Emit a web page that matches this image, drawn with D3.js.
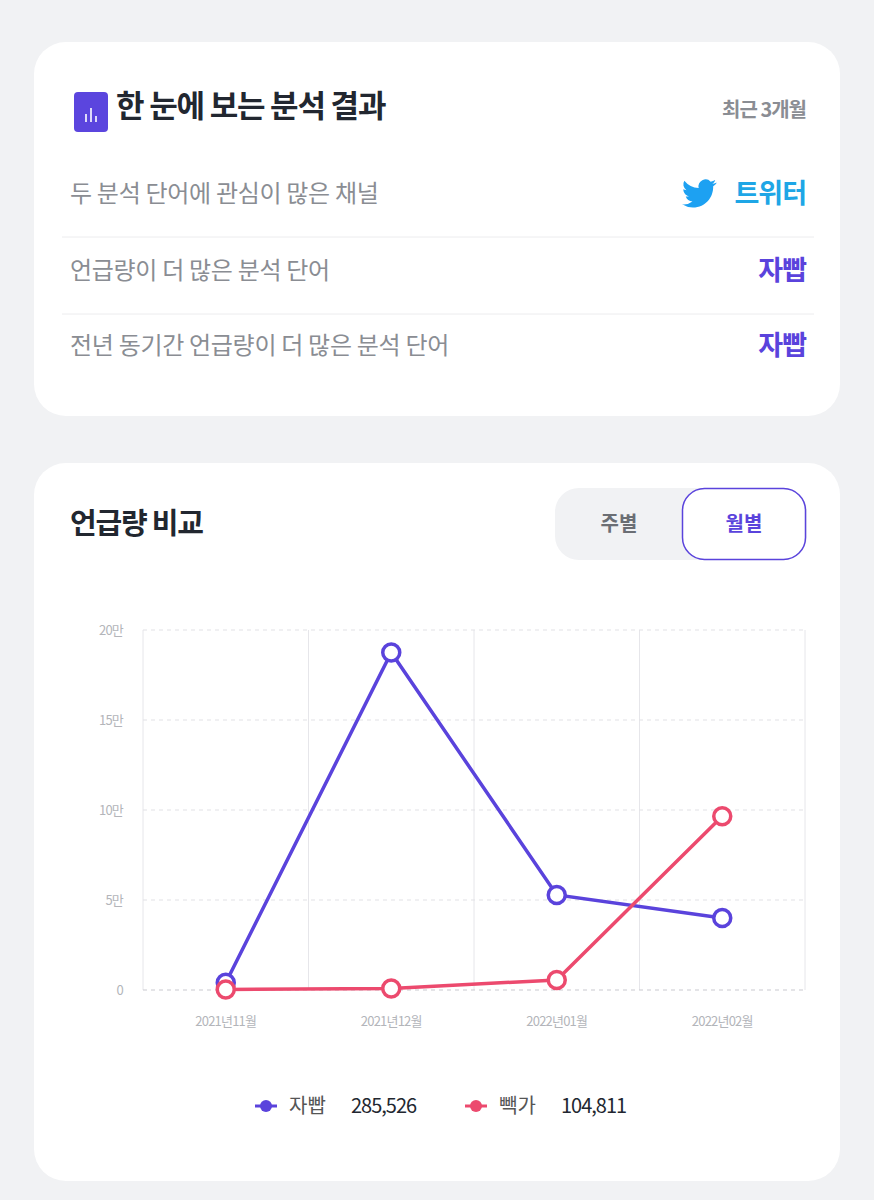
<!DOCTYPE html>
<html><head><meta charset="utf-8">
<script src="https://cdn.jsdelivr.net/npm/d3@7"></script>
<style>
body{margin:0;background:#f1f2f4;font-family:"Noto Sans CJK KR","Noto Sans",sans-serif;}
</style></head>
<body><svg id="c" width="874" height="1200"></svg>
<script>
// summary rows
var summaryRows = ["두 분석 단어에 관심이 많은 채널", "언급량이 더 많은 분석 단어", "전년 동기간 언급량이 더 많은 분석 단어"];
var summaryValues = ["트위터", "자빱", "자빱"];

// chart data
var months = ["2021년11월", "2021년12월", "2022년01월", "2022년02월"];
var seriesNames = ["자빱", "빽가"];
var jabbap = [4000, 187500, 52800, 40000];
var baekga = [300, 800, 5600, 96500];
var totals = ["285,526", "104,811"];
var yTicks = [0, 50000, 100000, 150000, 200000];
var yTickLabels = ["0", "5만", "10만", "15만", "20만"];
var colors = ["#5a43dc", "#ec4a6e"];

var svg = d3.select("#c");
svg.append("rect").attr("width", 874).attr("height", 1200).attr("fill", "#f1f2f4");

// card 1
svg.append("rect").attr("x", 34).attr("y", 42).attr("width", 806).attr("height", 374).attr("rx", 32).attr("fill", "#fff");
svg.append("rect").attr("x", 74).attr("y", 92).attr("width", 34).attr("height", 40).attr("rx", 4).attr("fill", "#5b45de");
[[86, 114, 8], [91, 108, 14], [96, 116, 6]].forEach(function(b){
  svg.append("line").attr("x1", b[0]).attr("x2", b[0]).attr("y1", b[1]).attr("y2", b[1] + b[2]).attr("stroke", "#fff").attr("stroke-width", 1.6);
});
svg.append("text").attr("x", 116).attr("y", 117).attr("font-size", 31).attr("font-weight", 700).attr("fill", "#222730").attr("letter-spacing", -1.2).text("한 눈에 보는 분석 결과");
svg.append("text").attr("x", 806).attr("y", 117).attr("text-anchor", "end").attr("font-size", 20).attr("font-weight", 700).attr("fill", "#8a8d93").attr("letter-spacing", -1).text("최근 3개월");

var rowY = [193, 270, 345];
summaryRows.forEach(function(t, i){
  svg.append("text").attr("x", 70).attr("y", rowY[i] + 9).attr("font-size", 24).attr("fill", "#8a8d93").attr("letter-spacing", -0.3).text(t);
  var isTw = i === 0;
  svg.append("text").attr("x", 806).attr("y", rowY[i] + 10).attr("text-anchor", "end").attr("font-size", 27).attr("font-weight", 700)
    .attr("fill", isTw ? "#1ea6e6" : "#5a43dc").attr("letter-spacing", -1).text(summaryValues[i]);
  if (i < 2) svg.append("line").attr("x1", 62).attr("x2", 814).attr("y1", rowY[i] + 44).attr("y2", rowY[i] + 44).attr("stroke", "#ececee");
});
// twitter bird
svg.append("path").attr("transform", "translate(682,176) scale(1.45)")
  .attr("fill", "#1da1f2")
  .attr("d", "M23.6 4.6c-.9.4-1.8.6-2.8.8 1-.6 1.8-1.6 2.1-2.7-.9.6-2 1-3.1 1.2A4.9 4.9 0 0 0 11.5 8.3 13.9 13.9 0 0 1 1.6 3.2a4.9 4.9 0 0 0 1.5 6.6c-.8 0-1.6-.3-2.2-.6 0 2.4 1.700 4.4 3.9 4.8-.7.2-1.5.2-2.2.1.6 2 2.4 3.4 4.6 3.4A9.9 9.9 0 0 1 0 19.5 14 14 0 0 0 7.5 21.7c9.1 0 14-7.5 14-14v-.6c1-.7 1.8-1.6 2.5-2.5z");

// card 2
svg.append("rect").attr("x", 34).attr("y", 463).attr("width", 806).attr("height", 718).attr("rx", 32).attr("fill", "#fff");
svg.append("text").attr("x", 70).attr("y", 534).attr("font-size", 29).attr("font-weight", 700).attr("fill", "#222730").attr("letter-spacing", -1.2).text("언급량 비교");
svg.append("rect").attr("x", 555).attr("y", 488).attr("width", 252).attr("height", 72).attr("rx", 24).attr("fill", "#f1f2f4");
svg.append("rect").attr("x", 682.5).attr("y", 488.5).attr("width", 123).attr("height", 71).attr("rx", 22).attr("fill", "#fff").attr("stroke", "#5a43dc").attr("stroke-width", 1.5);
svg.append("text").attr("x", 619).attr("y", 531).attr("text-anchor", "middle").attr("font-size", 20).attr("font-weight", 700).attr("fill", "#6b6e74").text("주별");
svg.append("text").attr("x", 744).attr("y", 531).attr("text-anchor", "middle").attr("font-size", 20).attr("font-weight", 700).attr("fill", "#5a43dc").text("월별");

// plot
var x0 = 143, x1 = 805, yTop = 630, yBot = 990;
var x = d3.scalePoint().domain(months).range([x0, x1]).padding(0.5);
var y = d3.scaleLinear().domain([0, 200000]).range([yBot, yTop]);
var step = x.step();
var g = svg.append("g");
d3.range(months.length + 1).forEach(function(i){
  g.append("line").attr("x1", x0 + i * step).attr("x2", x0 + i * step).attr("y1", yTop).attr("y2", yBot).attr("stroke", "#e6e6ea");
});
yTicks.forEach(function(t, i){
  g.append("line").attr("x1", x0).attr("x2", x1).attr("y1", y(t)).attr("y2", y(t))
    .attr("stroke", i === 0 ? "#c9c9cf" : "#e2e2e6").attr("stroke-dasharray", "4,4").attr("stroke-width", 1.2);
  g.append("text").attr("x", 123).attr("y", y(t) + 5).attr("text-anchor", "end").attr("font-size", 13).attr("fill", "#b3b5ba").attr("letter-spacing", -0.8).text(yTickLabels[i]);
});
months.forEach(function(m){
  g.append("text").attr("x", x(m)).attr("y", 1026).attr("text-anchor", "middle").attr("font-size", 13).attr("fill", "#b3b5ba").attr("letter-spacing", -0.8).text(m);
});
var line = d3.line().x(function(d, i){ return x(months[i]); }).y(function(d){ return y(d); });
[jabbap, baekga].forEach(function(s, k){
  g.append("path").datum(s).attr("d", line).attr("fill", "none").attr("stroke", colors[k]).attr("stroke-width", 3.5);
  g.selectAll(null).data(s).enter().append("circle")
    .attr("cx", function(d, i){ return x(months[i]); }).attr("cy", function(d){ return y(d); })
    .attr("r", 8.5).attr("fill", "#fff").attr("stroke", colors[k]).attr("stroke-width", 3.5);
});

// legend
var lx = [255, 465];
seriesNames.forEach(function(n, k){
  var L = svg.append("g").attr("transform", "translate(" + lx[k] + ",1106)");
  L.append("line").attr("x1", 0).attr("x2", 22).attr("stroke", colors[k]).attr("stroke-width", 3);
  L.append("circle").attr("cx", 11).attr("r", 6).attr("fill", colors[k]);
  L.append("text").attr("x", 34).attr("y", 7).attr("font-size", 20).attr("fill", "#555").text(n);
  L.append("text").attr("x", 96).attr("y", 7).attr("font-size", 20).attr("fill", "#222730").attr("letter-spacing", -1).text(totals[k]);
});
</script></body></html>
